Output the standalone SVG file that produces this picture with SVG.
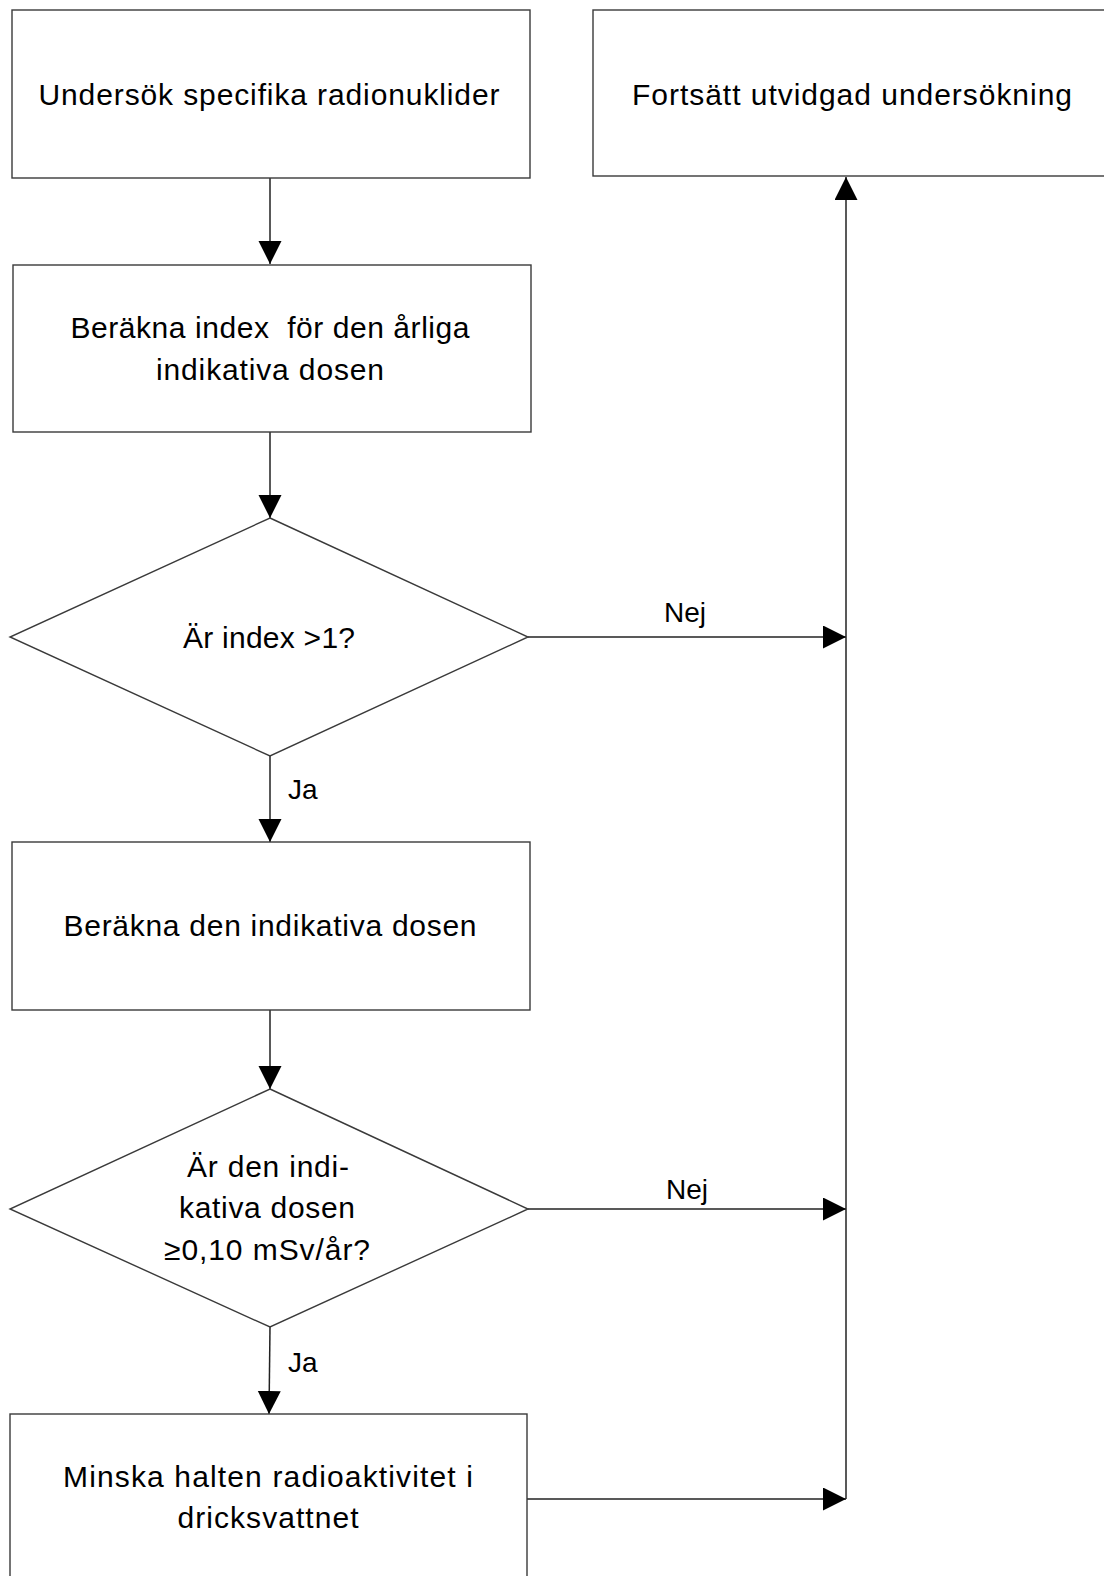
<svg xmlns="http://www.w3.org/2000/svg" width="1104" height="1576" viewBox="0 0 1104 1576">
<style>
.box{fill:#fff;stroke:#3a3a3a;stroke-width:1.4}
.dia{fill:#fff;stroke:#3a3a3a;stroke-width:1.4}
.t{font-family:"Liberation Sans",Arial,sans-serif;font-size:30px;fill:#000;text-anchor:middle}
.lbl{font-family:"Liberation Sans",Arial,sans-serif;font-size:28px;fill:#000}
.con{fill:none;stroke:#222;stroke-width:1.5}
</style>
<defs>
<marker id="ah" markerUnits="userSpaceOnUse" markerWidth="24" markerHeight="24" viewBox="0 0 24 24" refX="23" refY="11.5" orient="auto">
<path d="M0,0 L23,11.5 L0,23 z" fill="#000"/>
</marker>
</defs>
<rect width="1104" height="1576" fill="#fff"/>
<g id="connectors">
<line class="con" x1="270" y1="178" x2="270" y2="264" marker-end="url(#ah)"/>
<line class="con" x1="270" y1="432" x2="270" y2="518" marker-end="url(#ah)"/>
<line class="con" x1="270" y1="756" x2="270" y2="842" marker-end="url(#ah)"/>
<line class="con" x1="270" y1="1010" x2="270" y2="1089" marker-end="url(#ah)"/>
<line class="con" x1="270" y1="1327" x2="269" y2="1414" marker-end="url(#ah)"/>
<line class="con" x1="528" y1="637" x2="846" y2="637" marker-end="url(#ah)"/>
<line class="con" x1="528" y1="1209" x2="846" y2="1209" marker-end="url(#ah)"/>
<line class="con" x1="527" y1="1499" x2="846" y2="1499" marker-end="url(#ah)"/>
<line class="con" x1="846" y1="1499" x2="846" y2="177" marker-end="url(#ah)"/>
<text class="lbl" x="664" y="622">Nej</text>
<text class="lbl" x="666" y="1199">Nej</text>
<text class="lbl" x="288" y="799">Ja</text>
<text class="lbl" x="288" y="1372">Ja</text>
</g>
<g id="n1">
<rect class="box" x="12" y="10" width="518" height="168"/>
<text class="t" x="269" y="105" textLength="461">Undersök specifika radionuklider</text>
</g>
<g id="n2">
<rect class="box" x="593" y="10" width="530" height="166"/>
<text class="t" x="852" y="105" textLength="440">Fortsätt utvidgad undersökning</text>
</g>
<g id="n3">
<rect class="box" x="13" y="265" width="518" height="167"/>
<text class="t" x="270" y="338" textLength="399" xml:space="preserve">Beräkna index  för den årliga</text>
<text class="t" x="270" y="380" textLength="228">indikativa dosen</text>
</g>
<g id="n4">
<polygon class="dia" points="270,518 528,637 270,756 10,637"/>
<text class="t" x="269" y="648" textLength="172">Är index &gt;1?</text>
</g>
<g id="n5">
<rect class="box" x="12" y="842" width="518" height="168"/>
<text class="t" x="270" y="936" textLength="413">Beräkna den indikativa dosen</text>
</g>
<g id="n6">
<polygon class="dia" points="270,1089 528,1209 270,1327 10,1209"/>
<text class="t" x="268" y="1177" textLength="162">Är den indi-</text>
<text class="t" x="267" y="1218" textLength="176">kativa dosen</text>
<text class="t" x="267" y="1260" textLength="206">≥0,10 mSv/år?</text>
</g>
<g id="n7">
<rect class="box" x="10" y="1414" width="517" height="180"/>
<text class="t" x="268" y="1487" textLength="410">Minska halten radioaktivitet i</text>
<text class="t" x="268" y="1528" textLength="181">dricksvattnet</text>
</g>
</svg>
